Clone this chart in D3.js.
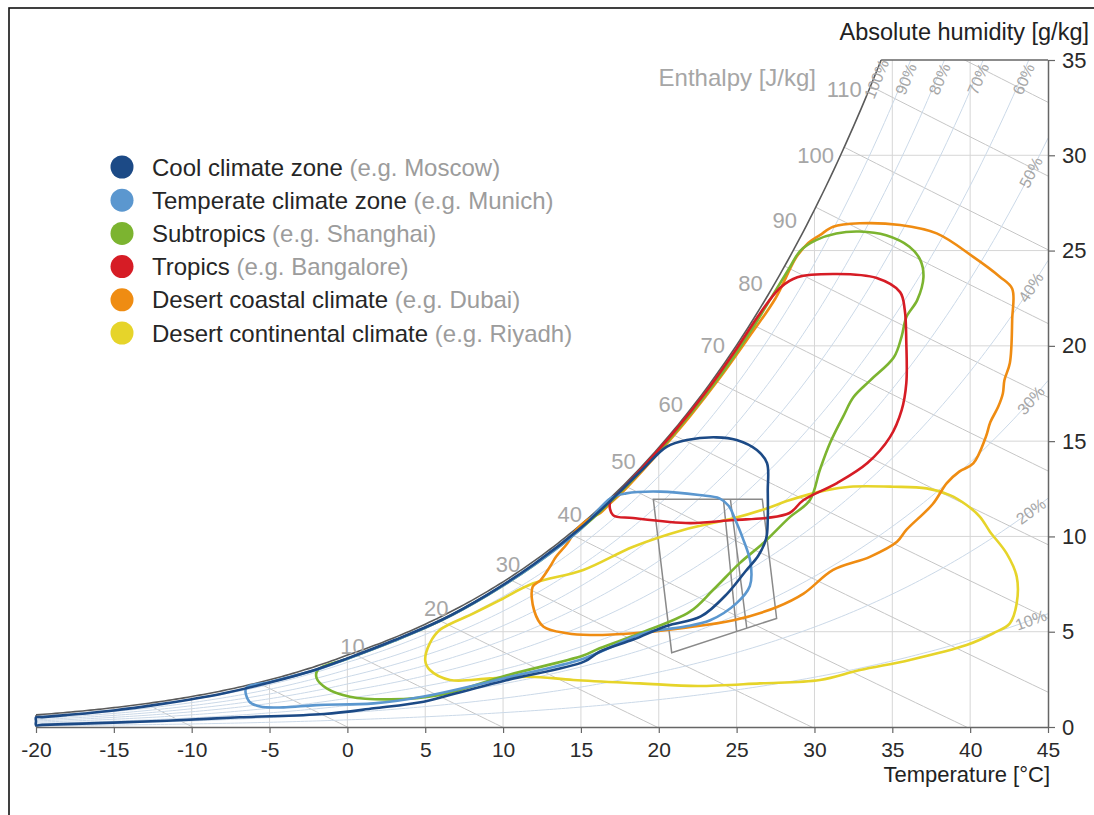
<!DOCTYPE html>
<html><head><meta charset="utf-8">
<script src="https://cdn.jsdelivr.net/npm/d3@7"></script>
<style>
body{margin:0;background:#fff}
svg{display:block}
text{font-family:"Liberation Sans",Arial,Helvetica,sans-serif}
</style>
</head><body>
<svg id="c" width="1094" height="815"></svg>
<script>
// ---------- data ----------
const temperatureTicks = [-20,-15,-10,-5,0,5,10,15,20,25,30,35,40,45];
const humidityTicks = [0,5,10,15,20,25,30,35];
const enthalpyLevels = [10,20,30,40,50,60,70,80,90,100,110];
const enthalpyGridLevels = [-20,-10,0,10,20,30,40,50,60,70,80,90,100,110,120,130];
const rhLevels = [10,20,30,40,50,60,70,80,90];
const rhLabelLevels = [10,20,30,40,50,60,70,80,90,100];

const zoneNames = ["Cool climate zone","Temperate climate zone","Subtropics","Tropics","Desert coastal climate","Desert continental climate"];
const zoneExamples = ["(e.g. Moscow)","(e.g. Munich)","(e.g. Shanghai)","(e.g. Bangalore)","(e.g. Dubai)","(e.g. Riyadh)"];
const zoneColors = ["#1c4a86","#5b97cf","#7cb430","#d61c25","#ef8c12","#e6d42a"];

// [temperature °C, absolute humidity g/kg]
const coolZone = [[-20,0.1],[-20,0.3],[-20,0.5],[-19.6,0.52],[-18,0.63],[-15,0.87],[-12,1.2],[-10,1.46],[-8,1.76],[-5,2.33],[-2,3.02],[0,3.6],[3,4.55],[6,5.6],[9,6.95],[12,8.55],[15,10.45],[17,11.95],[19,13.55],[20.5,14.7],[21.8,15.06],[23.7,15.2],[25.0,15.06],[26.3,14.53],[26.95,13.85],[27.0,12.4],[27.0,10.9],[26.9,9.9],[26.4,9.0],[25.6,8.2],[24.4,7.0],[22.7,5.8],[20.5,5.3],[18.4,4.6],[16.2,3.95],[15.2,3.43],[10.2,2.45],[7.0,1.77],[4.9,1.33],[1.7,0.98],[-1.5,0.68],[-6.9,0.51],[-11.6,0.33],[-19.6,0.11]];
const temperateZone = [[-6.5,2.05],[-5,2.35],[-2,3.0],[0,3.58],[3,4.52],[6,5.58],[9,6.92],[12,8.5],[15,10.4],[16.9,12.0],[17.9,12.26],[20.1,12.35],[22.6,12.17],[23.9,12.0],[24.5,11.6],[24.9,10.9],[25.4,9.9],[25.9,8.6],[25.85,7.4],[25.0,6.5],[23.3,5.6],[21.6,5.26],[19.4,5.0],[18.3,4.7],[15.2,3.6],[10.2,2.58],[4.9,1.6],[1.7,1.24],[-2.0,1.15],[-4.1,1.03],[-5.6,1.07],[-6.3,1.33]];
const subtropicsZone = [[-1.9,3.0],[0,3.58],[3,4.52],[6,5.58],[9,6.92],[12,8.5],[15,10.4],[18,12.7],[21,15.4],[24,18.5],[26,20.9],[27.5,22.9],[28.4,24.1],[29.1,25.0],[30.1,25.55],[31.4,25.9],[32.9,26.0],[34.6,25.8],[36.1,25.2],[36.8,24.5],[37.0,23.6],[36.6,22.4],[35.9,21.5],[35.6,20.5],[35.1,19.4],[33.6,18.2],[32.5,17.3],[31.85,16.3],[31.0,14.9],[30.35,13.5],[29.7,11.9],[28.4,11.0],[26.7,9.64],[25.2,8.6],[23.5,7.2],[22.0,6.05],[18.8,4.92],[16.2,4.13],[15.15,3.75],[10.2,2.7],[5.95,1.68],[2.74,1.45],[0.17,1.59],[-1.33,2.03],[-1.97,2.55]];
const tropicsZone = [[16.87,11.8],[17.5,12.35],[19,13.65],[21,15.5],[23,17.55],[25,19.85],[26.5,21.7],[27.8,23.05],[28.9,23.6],[31.45,23.77],[34.0,23.56],[35.5,22.82],[35.8,21.88],[35.9,20.15],[35.9,18.05],[35.6,16.63],[34.85,15.21],[33.4,13.85],[31.45,12.8],[29.3,11.91],[28.4,11.23],[26.95,10.97],[24.8,10.86],[22.0,10.7],[18.34,10.97],[17.06,11.12]];
const desertCoastalZone = [[16.9,11.75],[17.7,12.35],[19.9,14.3],[22,16.3],[24,18.4],[26,20.7],[27.5,22.5],[28.85,24.67],[29.6,25.4],[30.35,25.81],[31.2,26.25],[32.9,26.43],[35.5,26.34],[37.85,25.9],[40.2,24.67],[41.9,23.63],[42.7,23.0],[42.7,21.4],[42.55,19.1],[42.2,18.2],[42.1,17.5],[41.8,16.8],[41.3,16.0],[41.0,15.2],[40.2,13.83],[39.3,13.4],[38.5,12.8],[37.6,11.7],[35.9,10.34],[35.3,9.72],[33.56,8.93],[31.2,8.24],[29.3,7.0],[27.6,6.3],[24.8,5.6],[21.6,5.2],[18.4,4.92],[15.6,4.83],[14.1,4.92],[12.6,5.26],[12.0,6.1],[11.9,7.36],[12.4,7.7],[13.0,8.4],[13.4,8.93],[14.1,9.6],[14.7,10.34],[15.4,10.86],[16.2,11.2]];
const desertContinentalZone = [[5.0,3.5],[5.3,4.4],[5.95,5.1],[8.1,5.96],[9.8,6.66],[11.94,7.54],[15.15,8.24],[18.36,9.46],[21.57,10.34],[24.79,10.95],[26.93,11.47],[28.43,11.91],[30.78,12.43],[32.28,12.61],[35.06,12.61],[37.2,12.52],[38.7,12.17],[39.77,11.65],[40.63,11.03],[41.27,10.25],[42.34,9.11],[42.99,7.89],[42.99,6.49],[42.55,5.44],[41.49,4.92],[39.77,4.3],[36.13,3.52],[32.92,2.99],[30.35,2.47],[26.5,2.29],[22.5,2.15],[18.79,2.29],[14.51,2.47],[11.73,2.64],[9.16,2.55],[6.59,2.47],[5.3,2.99]];
const zones = [coolZone, temperateZone, subtropicsZone, tropicsZone, desertCoastalZone, desertContinentalZone];

const comfortOuter = [[19.65,11.95],[26.65,11.95],[27.57,5.7],[20.83,3.9]];
const comfortLineA = [[24.15,11.95],[25.0,5.03]];
const comfortLineB = [[24.6,11.95],[25.65,5.2]];

// ---------- psychrometrics (background grid) ----------
const P = 101.325;
const magnusWater = [0.61094,17.625,243.04], magnusIce = [0.61115,22.452,272.55];
function psat(T){const c=T>=0?magnusWater:magnusIce;return c[0]*Math.exp(c[1]*T/(c[2]+T));}
function hum(T,phi){const pv=phi*psat(T);return 622*pv/(P-pv);}
function enth(T,X){return 1.006*T+X*(2501+1.86*T)/1000;}
function solve(f,lo,hi){for(let i=0;i<60;i++){const m=(lo+hi)/2;if(f(m)>0)hi=m;else lo=m;}return (lo+hi)/2;}

// ---------- chart ----------
const svg = d3.select("#c");
const x = d3.scaleLinear([-20,45],[36,1048]);
const y = d3.scaleLinear([0,35],[727,60]);
const line = d3.line().x(d=>x(d[0])).y(d=>y(d[1]));

// frame
svg.append("rect").attr("x",9).attr("y",8).attr("width",1200).attr("height",1000)
  .attr("fill","none").attr("stroke","#111").attr("stroke-width",1.6);

const Tsat35 = solve(T=>hum(T,1)-35,20,40);
const satPts = d3.range(-20,Tsat35,0.25).map(T=>[T,hum(T,1)]).concat([[Tsat35,35]]);

svg.append("clipPath").attr("id","under").append("path")
  .attr("d", line(satPts.concat([[45,35],[45,0],[-20,0]])) + "Z");

const grid = svg.append("g").attr("clip-path","url(#under)");
grid.selectAll("line.v").data(temperatureTicks.slice(1,-1)).join("line")
  .attr("x1",d=>x(d)).attr("x2",d=>x(d)).attr("y1",y(0)).attr("y2",y(35))
  .attr("stroke","#d6d6d6").attr("stroke-width",1);
grid.selectAll("line.h").data(humidityTicks.slice(1,-1)).join("line")
  .attr("x1",x(-20)).attr("x2",x(45)).attr("y1",d=>y(d)).attr("y2",d=>y(d))
  .attr("stroke","#d6d6d6").attr("stroke-width",1);
grid.selectAll("path.h").data(enthalpyGridLevels).join("path")
  .attr("d",h=>line(d3.range(-20,45.01,0.5).map(T=>[T,(h-1.006*T)*1000/(2501+1.86*T)]).filter(p=>p[1]>-1&&p[1]<37)))
  .attr("fill","none").attr("stroke","#c6c6c6").attr("stroke-width",1);
grid.selectAll("path.rh").data(rhLevels).join("path")
  .attr("d",r=>line(d3.range(-20,45.01,0.25).map(T=>[T,hum(T,r/100)]).filter(p=>p[1]<37)))
  .attr("fill","none").attr("stroke","#cbd9e8").attr("stroke-width",1);

// axes
const gx = svg.append("g").attr("transform",`translate(0,${y(0)})`)
  .call(d3.axisBottom(x).tickValues(temperatureTicks).tickFormat(d=>String(d)).tickSize(6).tickSizeOuter(0).tickPadding(9));
const gy = svg.append("g").attr("transform",`translate(${x(45)},0)`)
  .call(d3.axisRight(y).tickValues(humidityTicks).tickFormat(d=>String(d)).tickSize(7).tickSizeOuter(0).tickPadding(7));
[gx,gy].forEach(g=>{
  g.select(".domain").attr("stroke","#666").attr("stroke-width",1.5);
  g.selectAll(".tick line").attr("stroke","#666").attr("stroke-width",1.2);
  g.selectAll(".tick text").attr("fill","#2a2a2a").style("font-family",'"Liberation Sans",Arial,sans-serif');
});
gx.selectAll(".tick text").style("font-size","21px");
gy.selectAll(".tick text").style("font-size","22px");

svg.append("line").attr("x1",x(Tsat35)).attr("x2",x(45)).attr("y1",y(35)).attr("y2",y(35))
  .attr("stroke","#666").attr("stroke-width",1.5);
svg.append("line").attr("x1",x(-20)).attr("x2",x(-20)).attr("y1",y(0)).attr("y2",y(hum(-20,1)))
  .attr("stroke","#666").attr("stroke-width",1.5);
svg.append("path").attr("d",line(satPts)).attr("fill","none").attr("stroke","#5a5a5a").attr("stroke-width",1.6);

// enthalpy labels
svg.append("g").selectAll("text").data(enthalpyLevels).join("text")
  .each(function(h){
    const T = solve(t=>enth(t,hum(t,1))-h,-20,40);
    d3.select(this).attr("x",x(T)).attr("y",y(Math.min(1.1*hum(T,1),34.3)));
  })
  .attr("text-anchor","middle").attr("dy","0.35em")
  .attr("fill","#a6a6a6").style("font-size","22px").text(d=>d);
svg.append("text").attr("x",816).attr("y",86).attr("text-anchor","end")
  .attr("fill","#a6a6a6").style("font-size","24px").text("Enthalpy [J/kg]");

// RH labels
svg.append("g").selectAll("text").data(rhLabelLevels).join("text")
  .each(function(r){
    const phi=r/100;
    let T,X,dx=0;
    if(r<=50){T=43.9;X=hum(T,phi);}
    else {X=34.0;T=solve(t=>hum(t,phi)-X,0,60);dx=3;}
    const ang = Math.atan2(y(hum(T+0.1,phi))-y(X), x(T+0.1)-x(T))*180/Math.PI;
    d3.select(this).attr("transform",`translate(${x(T)+dx},${y(X)}) rotate(${ang})`);
  })
  .attr("text-anchor","middle").attr("dy","0.35em")
  .attr("fill","#a6a6a6").style("font-size","16px").text(d=>d+"%");

// comfort box
svg.append("path").attr("d",line(comfortOuter)+"Z").attr("fill","none").attr("stroke","#8a8a8a").attr("stroke-width",1.5);
[comfortLineA,comfortLineB].forEach(l=>svg.append("path").attr("d",line(l)).attr("fill","none").attr("stroke","#8a8a8a").attr("stroke-width",1.5));

// climate zones
const zoneLine = d3.line().x(d=>x(d[0])).y(d=>y(d[1])).curve(d3.curveCatmullRomClosed.alpha(0.5));
const drawOrder = [5,4,2,3,1,0];
drawOrder.forEach(i=>{
  svg.append("path").attr("d",zoneLine(zones[i]))
    .attr("fill","none")
    .attr("stroke",zoneColors[i]).attr("stroke-width",2.6).attr("stroke-linejoin","round");
});

// legend
const lg = svg.append("g");
zoneNames.forEach((n,i)=>{
  const cy = 167 + i*33.2;
  lg.append("circle").attr("cx",122).attr("cy",cy).attr("r",11.5).attr("fill",zoneColors[i]);
  const t = lg.append("text").attr("x",152).attr("y",cy+8.5).style("font-size","24px");
  t.append("tspan").attr("fill","#262626").text(n+" ");
  t.append("tspan").attr("fill","#9c9c9c").text(zoneExamples[i]);
});

// axis titles
svg.append("text").attr("x",1089).attr("y",40).attr("text-anchor","end")
  .attr("fill","#222").style("font-size","23.5px").text("Absolute humidity [g/kg]");
svg.append("text").attr("x",1050).attr("y",782).attr("text-anchor","end")
  .attr("fill","#222").style("font-size","22px").text("Temperature [°C]");
</script>
</body></html>
